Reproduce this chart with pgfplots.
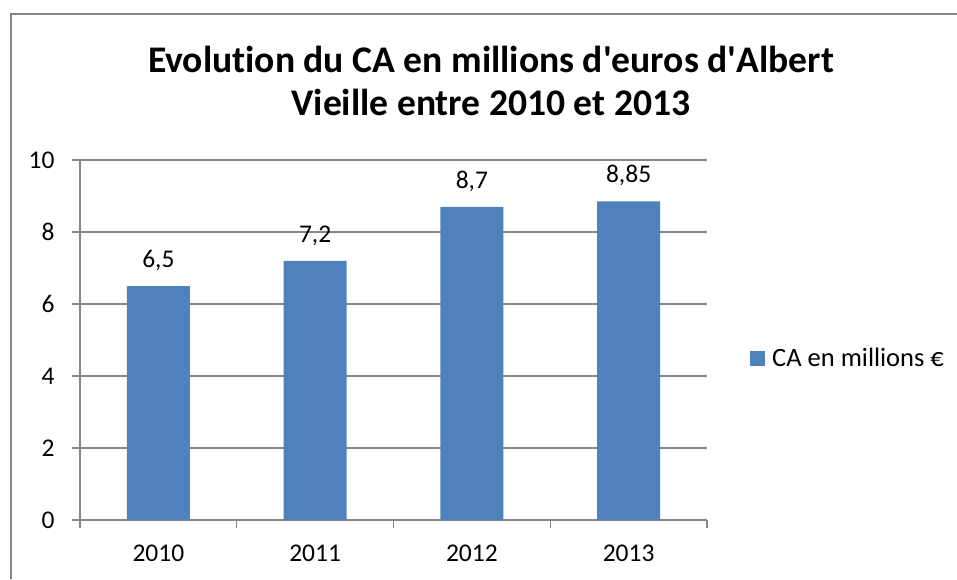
\documentclass[border=0pt]{standalone}
\usepackage{fontspec}
\setmainfont{Carlito}[Ligatures={TeX,NoCommon}]
\usepackage{pgfplots}
\pgfplotsset{compat=1.18}
\definecolor{barblue}{RGB}{79,129,189}
\definecolor{gridgray}{RGB}{134,134,134}
\definecolor{framegray}{RGB}{134,134,134}
\newcommand{\LabFont}{\fontsize{25.5}{30}\selectfont}
\newcommand{\TitleFont}{\fontsize{37.6}{43}\selectfont\bfseries}

\begin{document}
\begin{tikzpicture}[x=1pt,y=1pt]
\begin{axis}[
    at={(80pt,-520pt)}, anchor=south west,
    scale only axis,
    width=627pt, height=360pt,
    ybar, bar width=63pt,
    xmin=-0.5, xmax=3.5,
    ymin=0, ymax=10,
    ytick={0,2,...,10},
    xtick={0,1,2,3},
    xticklabels={2010,2011,2012,2013},
    minor xtick={-0.5,0.5,1.5,2.5,3.5},
    major x tick style={draw=none},
    tick align=outside,
    major tick length=8pt,
    minor tick length=8pt,
    tick style={draw=gridgray, line width=1.3pt},
    axis x line*=bottom, axis y line*=left,
    axis line style={-, draw=gridgray, line width=1.3pt},
    ymajorgrids=true,
    grid style={draw=gridgray, line width=1.3pt},
    /pgf/number format/assume math mode=true,
    /pgf/number format/use comma,
    ticklabel style={font=\LabFont, text=black},
    xticklabel style={yshift=-13pt},
    yticklabel style={xshift=-14pt},
    nodes near coords,
    every node near coord/.append style={font=\LabFont, text=black, yshift=12pt},
    legend style={at={(1,0.45)}, anchor=west, xshift=41pt, draw=none, fill=none,
        font=\fontsize{26.5}{30}\selectfont, inner sep=2pt},
    legend image code/.code={
        \fill[barblue] (0pt,-7.5pt) rectangle (15pt,7.5pt);
        \path (0pt,0pt) -- (20pt,0pt);},
    clip=false
]
\addplot[fill=barblue, draw=none] coordinates {
    (0,6.5)
    (1,7.2)
    (2,8.7)
    (3,8.85)
};
\addlegendentry{CA en millions €}
\end{axis}
\node[font=\TitleFont, align=center, text=black] at (491,-81)
    {Evolution du CA en millions d\textquotesingle euros d\textquotesingle Albert\\Vieille entre 2010 et 2013};
% outer chart frame (only left and top visible in the crop)
\fill[white] (900,-12) rectangle (960,-60);
\fill[framegray] (10,-579) rectangle (12,-13);
\fill[framegray] (10,-15) rectangle (957,-13);
\pgfresetboundingbox
\useasboundingbox (0,0) rectangle (957,-579);
\end{tikzpicture}
\end{document}
